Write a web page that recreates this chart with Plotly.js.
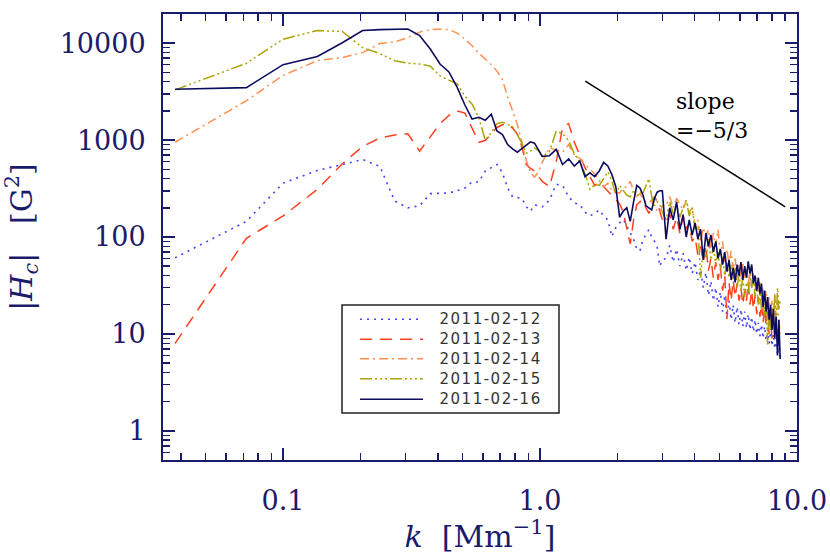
<!DOCTYPE html>
<html><head><meta charset="utf-8">
<script src="https://cdn.plot.ly/plotly-3.0.1.min.js"></script>
<style>html,body{margin:0;padding:0;background:#fff;} #chart{width:830px;height:554px;}
g.annotation[data-index="0"] text, g.annotation[data-index="1"] text, g.annotation[data-index="2"] text,
g.annotation[data-index="3"] text, g.annotation[data-index="4"] text { letter-spacing:1.5px; }
</style>
</head><body><div id="chart"></div>
<script>
// ---- data ----
const K = [0.038,0.072,0.100,0.136,0.170,0.204,0.238,0.272,0.306,0.340,0.374,0.408,0.442,0.476,0.510,0.544,0.578,0.612,0.646,0.680,0.714,0.748,0.782,0.816,0.850,0.884,0.918,0.952,0.986,1.020,
1.088,1.156,1.224,1.292,1.360,1.428,1.496,1.564,1.632,1.700,1.768,1.836,1.904,1.972,2.040,2.108,2.176,2.244,2.312,2.380,2.448,2.516,2.584,2.652,2.720,2.788,2.856,2.924,2.992,
3.094,3.196,3.298,3.400,3.502,3.604,3.706,3.808,3.910,4.012,4.114,4.216,4.318,4.420,4.522,4.624,4.726,4.828,4.930,5.032,5.134,5.236,5.338,5.440,5.542,5.644,5.746,5.848,5.950,6.052,6.154,6.256,6.358,6.460,6.562,6.664,6.766,6.868,6.970,7.072,7.174,7.276,7.378,7.480,7.582,7.684,7.786,7.888,7.990,8.092,8.194,8.296,8.398,8.500,8.602];

const H_0212 = [61,145,360,485,560,630,535,235,200,210,280,285,285,300,320,370,370,480,520,560,460,320,260,255,250,205,185,215,210,205,
240,350,340,260,225,215,180,165,175,190,165,150,101,125,140,152,130,110,95,75,72,94,105,119,100,90,78,50,58,
60,82,55,75,50,68,45,62,42,55,
36,46,30,43,25,35,22,30,19,27,
17,25,15,22,14,20,13,19,12.5,18,
12,17,11.5,16,11,15,10.5,14,10,13,
9.5,12.5,9,12,8.5,11,8,10.5,7.5,10,
7,9,6,8,5.5];

const H_0213 = [8,97,165,310,570,860,1050,1130,1160,770,1080,1475,1800,2000,1900,1350,950,990,1150,1350,1440,1470,1330,1150,850,560,510,480,420,375,
330,600,1350,1480,950,700,520,420,340,370,330,300,270,240,220,180,120,85,150,215,230,243,200,175,210,262,230,180,150,
140,175,120,160,110,165,120,140,90,100,
65,80,55,82,45,60,38,55,36,50,
28,40,14.3,34,22,36,24,33,22,30,
20,28,22,34,20,28,18,25,16,24,
15,21,13,19,12,17,10,15,9,14,
10,13,8,12,10];

const H_0214 = [950,2550,4650,6600,7100,8000,9900,10300,11400,13000,13800,14000,13800,12700,11000,9400,7900,6900,6000,5150,4200,2800,2000,1450,950,620,460,415,470,590,
830,780,750,900,700,650,560,500,450,380,330,360,300,290,284,320,330,375,300,262,280,250,230,224,240,200,190,177,210,
210,260,200,250,215,190,240,180,200,130,
150,90,125,100,119,75,110,80,119,65,
90,55,75,52,72,45,60,38,52,36,
55,38,48,32,44,30,42,28,38,26,
34,22,30,20,28,17,24,15,22,13,
26,11,20,14,10];

const H_0215 = [3300,6200,11000,13500,13200,9000,7800,6600,6200,6100,5800,4600,4150,3800,2850,2350,1700,1000,1190,1480,1530,1460,1380,1130,930,730,770,830,780,680,
760,1230,1170,990,720,600,450,310,350,340,400,470,380,270,340,300,270,260,300,260,290,285,340,400,260,210,230,220,180,
150,230,175,215,160,200,240,165,200,120,
130,38,75,60,95,58,80,52,70,45,
62,40,55,38,52,36,48,30,42,28,
38,24,34,26,42,30,40,24,32,20,
27,18,24,15,22,7.5,16,11,19,12,
25,13,30,18,22];

const H_0216 = [3350,3480,6000,7300,10100,13500,13800,14000,14000,12000,8700,6100,5050,3500,2300,1650,1720,1600,1850,1240,1140,900,810,750,820,900,960,930,800,680,
690,800,560,640,540,610,420,460,420,480,590,540,440,330,160,185,200,145,230,340,320,270,210,200,190,250,290,300,300,
95,200,150,230,120,170,100,150,105,140,
95,120,58,110,80,105,70,90,60,75,
52,70,44,58,36,48,34,52,40,55,
36,50,38,56,42,52,33,40,28,38,
26,33,19,28,17,24,14,20,11,18,
9,15,6,14,5.5];

const SERIES_NAMES = ['2011-02-12','2011-02-13','2011-02-14','2011-02-15','2011-02-16'];
const SERIES_VALUES = [H_0212, H_0213, H_0214, H_0215, H_0216];

const SLOPE_K = [1.5, 9.0];
const SLOPE_H = [4060, 205];
const SLOPE_LABEL = ['slope', '=\u22125/3'];

const X_TICKS = [0.1, 1, 10];
const X_TICK_TEXT = ['0.1', '1.0', '10.0'];
const Y_TICKS = [1, 10, 100, 1000, 10000];
const Y_TICK_TEXT = ['1', '10', '100', '1000', '10000'];

// ---- styles ----
const NAVY = '#1b1b6b';
const STYLES = [
  {color:'#4343f5', dash:'2px,5px', width:1.6},
  {color:'#ff401e', dash:'12px,8px', width:1.5},
  {color:'#ff9050', dash:'9px,4px,2px,4px', width:1.5},
  {color:'#aba300', dash:'12px,3px,2px,3px,2px,3px,2px,3px', width:1.5},
  {color:'#0c0c5e', dash:'solid', width:1.6}
];

// plot area in pixels
const PL = 163, PR = 797, PT = 14, PB = 460;
const px2x = p => (p - PL) / (PR - PL);
const py2y = p => (PB - p) / (PB - PT);

const traces = SERIES_VALUES.map((v, i) => ({
  x: K, y: v, type: 'scatter', mode: 'lines', name: SERIES_NAMES[i],
  line: {color: STYLES[i].color, dash: STYLES[i].dash, width: STYLES[i].width},
  hoverinfo: 'skip'
}));
traces.push({x: SLOPE_K, y: SLOPE_H, type: 'scatter', mode: 'lines',
  line: {color: '#000', width: 1.5}, hoverinfo: 'skip', showlegend: false});

// manual legend
const shapes = [{type:'rect', xref:'paper', yref:'paper',
  x0: px2x(342), x1: px2x(559), y0: py2y(413), y1: py2y(305),
  line:{color:'#222', width:1.5}, fillcolor:'rgba(255,255,255,1)', layer:'above'}];
const annotations = [];
const rowY = [319.3, 339.3, 358.8, 378.8, 399.2];
SERIES_NAMES.forEach((n, i) => {
  shapes.push({type:'line', xref:'paper', yref:'paper',
    x0: px2x(360), x1: px2x(423), y0: py2y(rowY[i]), y1: py2y(rowY[i]),
    line:{color: STYLES[i].color, dash: STYLES[i].dash, width: STYLES[i].width}, layer:'above'});
  annotations.push({xref:'paper', yref:'paper', x: px2x(446), y: py2y(rowY[i]),
    xanchor:'left', yanchor:'middle', showarrow:false, text: n, borderpad:0,
    font:{family:'DejaVu Sans', size:15, color:'#333'}});
});
annotations.push({xref:'paper', yref:'paper', x: px2x(675), y: py2y(116), xanchor:'left', yanchor:'middle',
  align:'left', showarrow:false, text: SLOPE_LABEL.join('<br>'), borderpad:0,
  font:{family:'DejaVu Serif', size:22, color:'#000'}});

const axisCommon = {
  type:'log', showline:true, linecolor:NAVY, linewidth:2, mirror:'allticks',
  ticks:'inside', ticklen:12, tickwidth:1.5, tickcolor:NAVY,
  showgrid:false, zeroline:false, tickmode:'array',
  tickfont:{family:'DejaVu Serif', size:27, color:NAVY},
  minor:{ticks:'inside', ticklen:7, tickwidth:1.5, tickcolor:NAVY, dtick:'D1', showgrid:false}
};

const layout = {
  width:830, height:554, margin:{l:PL, r:830-PR, t:PT, b:554-PB},
  paper_bgcolor:'#fff', plot_bgcolor:'#fff', showlegend:false,
  xaxis: Object.assign({}, axisCommon, {
    range:[Math.log10(0.0341), 1], tickvals:X_TICKS, ticktext:X_TICK_TEXT, ticklabelstandoff:16,
    title:{text:'<i>k</i>\u00a0\u00a0[Mm<sup>\u22121</sup>]', font:{family:'DejaVu Serif', size:30, color:NAVY}, standoff:12},
    automargin:false
  }),
  yaxis: Object.assign({}, axisCommon, {
    range:[Math.log10(0.5), Math.log10(20000)], tickvals:Y_TICKS, ticktext:Y_TICK_TEXT, ticklabelstandoff:10,
    title:{text:'|<i>H<sub>c</sub></i>|\u00a0\u00a0\u00a0[G<sup>2</sup>]', font:{family:'DejaVu Serif', size:30, color:NAVY}, standoff:22},
    automargin:false
  }),
  shapes: shapes, annotations: annotations
};

Plotly.newPlot('chart', traces, layout, {staticPlot:true, displayModeBar:false});
</script>
</body></html>
